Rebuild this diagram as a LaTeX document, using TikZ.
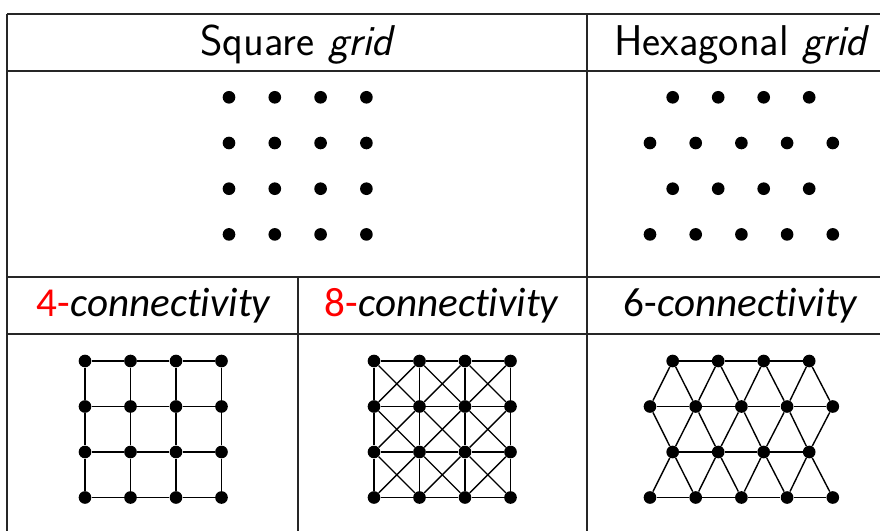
\documentclass[tikz,border=0pt]{standalone}
\usepackage{fontspec}
\newfontfamily\labelfont[Ligatures={NoCommon,NoRare,NoDiscretionary}]{Carlito}
\usetikzlibrary{positioning}
\tikzset{
  dot/.style={circle,fill=black,inner sep=0pt,minimum size=7.2pt},
  rule/.style={line width=1.1pt,black!85},
  link/.style={line width=0.8pt},
  head/.style={font=\sffamily\fontsize{24.5}{29}\selectfont,anchor=base,inner sep=0pt},
  conn/.style={font=\labelfont\fontsize{23.4}{28}\selectfont,anchor=base,inner sep=0pt}
}

\begin{document}
\begin{tikzpicture}[x=0.02cm,y=-0.02cm]
  \useasboundingbox (0,0) rectangle (880,531);
  % table rules
  \foreach \yy in {14,71,277,334} \draw[rule] (7,\yy) -- (880,\yy);
  \draw[rule] (7,14) -- (7,531); \draw[rule] (587,14) -- (587,531); \draw[rule] (298,277) -- (298,531);
  \node[head] (sqhead) at (298,55) {Square \textit{grid}};
  \node[head] (hxhead) at (742,55) {Hexagonal \textit{grid}};
  \node[conn] (four) at (154,316) {\textcolor{red}{4-}\textit{connectivity}};
  \node[conn] (eight) at (442,316) {\textcolor{red}{8-}\textit{connectivity}};
  \node[conn] (six) at (741,316) {6-\textit{connectivity}};
  % square grid points
  \foreach \col in {0,...,3} \foreach \row in {0,...,3} \node[dot] (g\col\row) at (229+45.8*\col,97.3+45.7*\row) {};
  % hexagonal grid points
  \foreach \row in {0,2} \foreach \col in {0,...,3} \node[dot] (x\row-\col) at (672.7+45.5*\col,97.3+45.7*\row) {};
  \foreach \row in {1,3} \foreach \col in {0,...,4} \node[dot] (x\row-\col) at (650+45.7*\col,97.3+45.7*\row) {};
  % 4-connectivity
  \begin{scope}
    \foreach \col in {0,...,3} \foreach \row in {0,...,3} \node[dot] (f\col\row) at (85+45.5*\col,361+45.5*\row) {};
    \foreach \col in {0,1,2} \foreach \row in {0,...,3} {
      \pgfmathtruncatemacro\nc{\col+1}
      \draw[link] (f\col\row) -- (f\nc\row); \draw[link] (f\row\col) -- (f\row\nc);
    }
  \end{scope}
  % 8-connectivity
  \begin{scope}
    \foreach \col in {0,...,3} \foreach \row in {0,...,3} \node[dot] (e\col\row) at (374+45.5*\col,361+45.5*\row) {};
    \foreach \col in {0,1,2} \foreach \row in {0,...,3} {
      \pgfmathtruncatemacro\nc{\col+1}
      \draw[link] (e\col\row) -- (e\nc\row); \draw[link] (e\row\col) -- (e\row\nc);
    }
    \foreach \col in {0,1,2} \foreach \row in {0,1,2} {
      \pgfmathtruncatemacro\nc{\col+1} \pgfmathtruncatemacro\nr{\row+1}
      \draw[link] (e\col\row) -- (e\nc\nr); \draw[link] (e\nc\row) -- (e\col\nr);
    }
  \end{scope}
  % 6-connectivity
  \begin{scope}
    \foreach \row in {0,2} \foreach \col in {0,...,3} \node[dot] (h\row-\col) at (672.7+45.5*\col,361+45.5*\row) {};
    \foreach \row in {1,3} \foreach \col in {0,...,4} \node[dot] (h\row-\col) at (650+45.7*\col,361+45.5*\row) {};
    \foreach \row in {0,2} \foreach \col in {0,1,2} {
      \pgfmathtruncatemacro\nc{\col+1}
      \draw[link] (h\row-\col) -- (h\row-\nc);
    }
    \foreach \row in {1,3} \foreach \col in {0,...,3} {
      \pgfmathtruncatemacro\nc{\col+1}
      \draw[link] (h\row-\col) -- (h\row-\nc);
    }
    \foreach \col in {0,...,3} {
      \pgfmathtruncatemacro\nc{\col+1}
      \draw[link] (h0-\col) -- (h1-\col); \draw[link] (h0-\col) -- (h1-\nc);
      \draw[link] (h2-\col) -- (h1-\col); \draw[link] (h2-\col) -- (h1-\nc);
      \draw[link] (h2-\col) -- (h3-\col); \draw[link] (h2-\col) -- (h3-\nc);
    }
  \end{scope}
\end{tikzpicture}
\end{document}
